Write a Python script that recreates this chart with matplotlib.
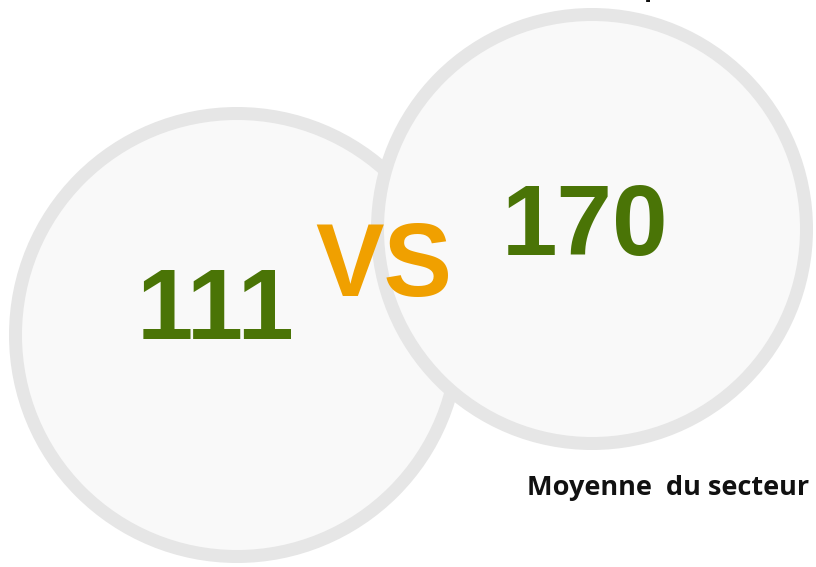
import matplotlib.pyplot as plt
from matplotlib.patches import Circle

# values shown in the two bubbles
labels = ["Votre entreprise", "Moyenne  du secteur"]
values = [111, 170]

ring = "#e6e6e6"
fill = "#f9f9f9"
green = "#4a7406"
orange = "#f0a000"

fig = plt.figure(figsize=(8.16, 5.67), dpi=100)
ax = fig.add_axes([0, 0, 1, 1])
ax.set_xlim(0, 816)
ax.set_ylim(567, 0)
ax.axis("off")

lw = 13 * 72 / 100  # ring width in points

# left bubble first, right one drawn over it
ax.add_patch(Circle((237, 335), 221.5, facecolor=fill, edgecolor=ring, lw=lw, zorder=1))
ax.add_patch(Circle((592, 229), 214.5, facecolor=fill, edgecolor=ring, lw=lw, zorder=2))

ax.text(216, 339, str(values[0]), color=green, fontsize=73, fontweight="bold",
        family="Liberation Sans", ha="center", va="baseline", zorder=3)
ax.text(585, 255, str(values[1]), color=green, fontsize=72, fontweight="bold",
        family="Liberation Sans", ha="center", va="baseline", zorder=3)
ax.text(384, 296, "VS", color=orange, fontsize=74, fontweight="bold",
        family="Liberation Sans", ha="center", va="baseline", zorder=4)

ax.text(527, 495, labels[1], color="#111111", fontsize=19.5, fontweight="bold",
        family="Open Sans", ha="left", va="baseline", zorder=4)
# descender of a title cut off at the top edge
ax.text(652, -4, "p", color="#111111", fontsize=19.5, fontweight="bold",
        family="Open Sans", ha="center", va="baseline", zorder=4)

fig.savefig("out.png", dpi=100)
